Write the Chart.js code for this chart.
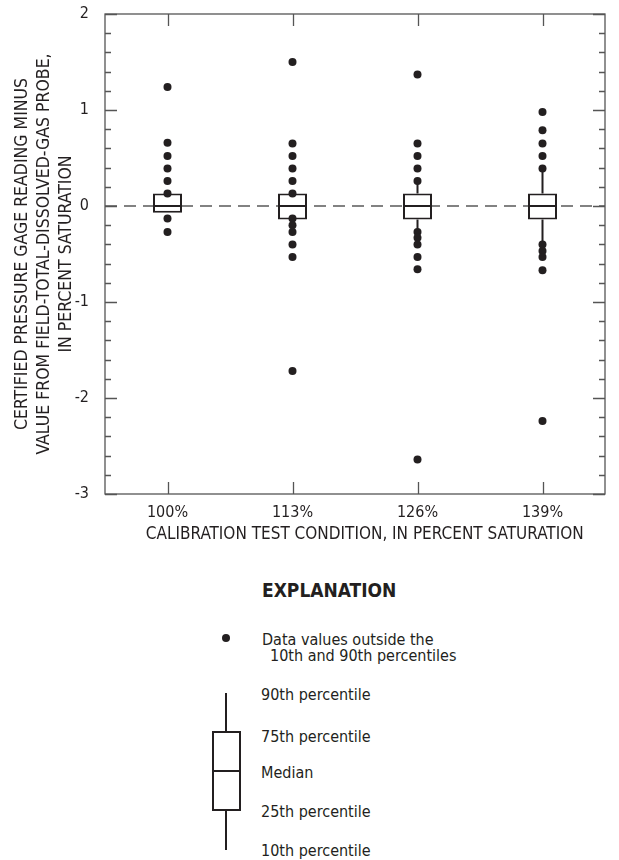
<!DOCTYPE html>
<html>
<head>
<meta charset="utf-8">
<script src="https://cdn.jsdelivr.net/npm/chart.js@4"></script>
<style>
    body { margin: 0; background: #fff; font-family: 'Liberation Sans Narrow', 'DejaVu Sans Condensed', sans-serif; color: #231f20; }
    #chartContainer { position: relative; width: 619px; height: 560px; }
    .lg { position: absolute; font-size: 16px; line-height: 18px; white-space: nowrap; }
    .lgTitle { position: absolute; font-weight: bold; font-size: 19px; line-height: 20px; }
</style>
</head>
<body>
<div id="chartContainer"><canvas id="boxChart"></canvas></div>

<!-- Пояснение (легенда) -->
<div class="lgTitle" style="left:262px; top:580px;">EXPLANATION</div>
<div style="position:absolute; left:222px; top:634px; width:8px; height:8px; border-radius:50%; background:#231f20;"></div>
<div class="lg" style="left:262px; top:631px;">Data values outside the</div>
<div class="lg" style="left:270px; top:647px;">10th and 90th percentiles</div>
<div style="position:absolute; left:225px; top:693px; width:2px; height:39px; background:#231f20;"></div>
<div style="position:absolute; left:212px; top:731px; width:25px; height:76px; border:2px solid #231f20;"></div>
<div style="position:absolute; left:212px; top:770px; width:29px; height:2px; background:#231f20;"></div>
<div style="position:absolute; left:225px; top:811px; width:2px; height:39px; background:#231f20;"></div>
<div class="lg" style="left:261px; top:686px;">90th percentile</div>
<div class="lg" style="left:261px; top:728px;">75th percentile</div>
<div class="lg" style="left:261px; top:764px;">Median</div>
<div class="lg" style="left:261px; top:803px;">25th percentile</div>
<div class="lg" style="left:261px; top:842px;">10th percentile</div>

<script>
// Категории и статистики
const categories = ['100%', '113%', '126%', '139%'];
const p10 = [-0.07, -0.14, -0.25, -0.38];
const q1 = [-0.07, -0.14, -0.14, -0.14];
const median = [0, 0, 0, 0];
const q3 = [0.13, 0.13, 0.13, 0.13];
const p90 = [0.13, 0.13, 0.26, 0.39];

// Выбросы
const out100 = [1.24, 0.66, 0.52, 0.39, 0.26, 0.13, -0.13, -0.27];
const out113 = [1.50, 0.65, 0.52, 0.39, 0.26, 0.13, -0.13, -0.20, -0.27, -0.40, -0.53, -1.72];
const out126 = [1.37, 0.65, 0.52, 0.39, 0.26, -0.27, -0.33, -0.40, -0.53, -0.66, -2.64];
const out139 = [0.98, 0.79, 0.65, 0.52, 0.39, -0.40, -0.47, -0.53, -0.67, -2.24];
const outliers = [out100, out113, out126, out139];

const yMin = -3;
const yMax = 2;

const FONT = "'Liberation Sans Narrow', 'DejaVu Sans Condensed', sans-serif";
const INK = '#231f20';
const FRAME = '#555555';

const outlierPoints = [];
outliers.forEach((list, i) => {
    list.forEach(v => outlierPoints.push({ x: categories[i], y: v }));
});

// Усы, медиана, нулевая линия, рамка и засечки
const boxPlugin = {
    id: 'boxExtras',
    beforeDatasetsDraw(chart) {
        const { ctx, chartArea, scales: { y } } = chart;
        const y0 = y.getPixelForValue(0);
        ctx.save();
        ctx.strokeStyle = '#5a5a5a';
        ctx.lineWidth = 1.3;
        ctx.setLineDash([12, 7]);
        ctx.beginPath();
        ctx.moveTo(chartArea.left, y0);
        ctx.lineTo(chartArea.right, y0);
        ctx.stroke();
        ctx.restore();
    },
    afterDatasetDraw(chart, args) {
        if (args.index !== 0) return;
        const { ctx, scales: { x, y } } = chart;
        const meta = chart.getDatasetMeta(0);
        ctx.save();
        ctx.strokeStyle = INK;
        ctx.lineWidth = 2;
        categories.forEach((c, i) => {
            const bar = meta.data[i];
            const half = bar.width / 2;
            const cx = x.getPixelForValue(i);
            const ym = y.getPixelForValue(median[i]);
            ctx.beginPath();
            ctx.moveTo(cx - half, ym);
            ctx.lineTo(cx + half, ym);
            // верхний ус
            ctx.moveTo(cx, y.getPixelForValue(q3[i]));
            ctx.lineTo(cx, y.getPixelForValue(p90[i]));
            // нижний ус
            ctx.moveTo(cx, y.getPixelForValue(q1[i]));
            ctx.lineTo(cx, y.getPixelForValue(p10[i]));
            ctx.stroke();
        });
        ctx.restore();
    },
    afterDraw(chart) {
        const { ctx, chartArea: a, scales: { x, y } } = chart;
        ctx.save();
        ctx.strokeStyle = FRAME;
        ctx.lineWidth = 1.3;
        ctx.strokeRect(a.left, a.top, a.right - a.left, a.bottom - a.top);
        ctx.beginPath();
        // засечки по оси Y (основные и промежуточные)
        for (let k = 0; k <= (yMax - yMin) * 5; k++) {
            const v = yMin + k * 0.2;
            const py = Math.round(y.getPixelForValue(v)) + 0.5;
            const len = (k % 5 === 0) ? 12 : 6;
            ctx.moveTo(a.left, py);
            ctx.lineTo(a.left + len, py);
            ctx.moveTo(a.right, py);
            ctx.lineTo(a.right - len, py);
        }
        // засечки по оси X
        categories.forEach((c, i) => {
            const px = Math.round(x.getPixelForValue(i)) + 0.5;
            ctx.moveTo(px, a.bottom);
            ctx.lineTo(px, a.bottom - 12);
            ctx.moveTo(px, a.top);
            ctx.lineTo(px, a.top + 12);
        });
        ctx.stroke();
        ctx.restore();
    }
};

function initBoxChart() {
    const ctx = document.getElementById('boxChart');
    if (!ctx) return;

    new Chart(ctx.getContext('2d'), {
        type: 'bar',
        data: {
            labels: categories,
            datasets: [{
                type: 'bar',
                data: categories.map((c, i) => [q1[i], q3[i]]),
                backgroundColor: '#ffffff',
                borderColor: INK,
                borderWidth: 2,
                borderSkipped: false,
                barPercentage: 0.232,
                categoryPercentage: 1,
                order: 1
            }, {
                type: 'line',
                data: outlierPoints,
                showLine: false,
                pointRadius: 4,
                pointBackgroundColor: INK,
                pointBorderWidth: 0,
                order: 0
            }]
        },
        options: {
            responsive: true,
            maintainAspectRatio: false,
            animation: false,
            layout: {
                padding: { top: 14, right: 14, bottom: 0, left: 0 }
            },
            plugins: {
                legend: { display: false },
                tooltip: { enabled: false }
            },
            scales: {
                x: {
                    type: 'category',
                    offset: true,
                    grid: { display: false },
                    border: { display: false },
                    ticks: {
                        color: INK,
                        padding: 1,
                        font: { family: FONT, size: 16 }
                    },
                    title: {
                        display: true,
                        text: '\u00a0\u00a0\u00a0\u00a0CALIBRATION TEST CONDITION, IN PERCENT SATURATION',
                        color: INK,
                        font: { family: FONT, size: 17 },
                        padding: { top: 2, bottom: 15 }
                    },
                    afterFit: function(scale) {
                        scale.height = 66;
                    }
                },
                y: {
                    min: yMin,
                    max: yMax,
                    grid: { display: false },
                    border: { display: false },
                    ticks: {
                        stepSize: 1,
                        color: INK,
                        padding: 8,
                        font: { family: FONT, size: 16, lineHeight: 0.75 }
                    },
                    title: {
                        display: true,
                        text: ['CERTIFIED PRESSURE GAGE READING MINUS',
                               'VALUE FROM FIELD-TOTAL-DISSOLVED-GAS PROBE,',
                               'IN PERCENT SATURATION'],
                        color: INK,
                        font: { family: FONT, size: 17.5, lineHeight: 1.26 },
                        padding: { top: 11, bottom: 0 }
                    },
                    afterFit: function(scale) {
                        scale.width = 105;
                    }
                }
            }
        },
        plugins: [boxPlugin]
    });
}

initBoxChart();
</script>
</body>
</html>
